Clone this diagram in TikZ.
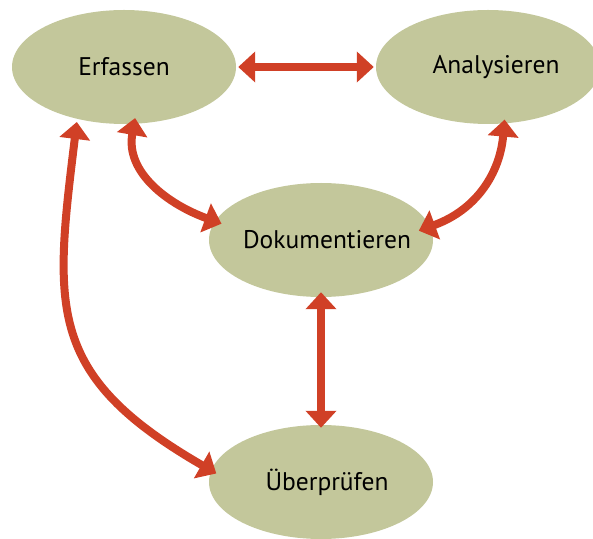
\documentclass[tikz,border=0pt]{standalone}
\usepackage{fontspec}
\setmainfont{PT Sans}
\usepackage{xcolor}
\usetikzlibrary{shapes.geometric,arrows.meta}

\definecolor{olive}{RGB}{195,199,155}
\definecolor{rot}{RGB}{208,64,38}

\newcommand{\phasename}[2][0pt]{\makebox[0pt]{\hspace{#1}#2}}

\tikzset{
	phase/.style={ellipse, fill=olive, inner sep=0pt, minimum width=224pt, minimum height=114pt, font=\fontsize{25.5}{28}\selectfont},
	pfeil/.style={draw=rot, line width=8pt, {Triangle[width=30pt,length=17pt]}-{Triangle[width=30pt,length=17pt]}}
}

\begin{document}
\begin{tikzpicture}[x=1pt,y=1pt]
			\useasboundingbox (0,0) rectangle (593,538);
			\clip (0,0) rectangle (593,538);

			\node[phase] (erfassen) at (124,471) {\phasename{Erfassen}};
			\node[phase] (analyse) at (488,471) {\phasename[16pt]{Analysieren}};
			\node[phase] (doku) at (321,298) {\phasename[12pt]{Dokumentieren}};
			\node[phase] (pruefen) at (321,56) {\phasename[12pt]{Überprüfen}};

			\draw[pfeil, shorten <=2pt, shorten >=2pt] (erfassen.east) -- (analyse.west);
			\draw[pfeil, shorten <=-5pt, shorten >=-3pt] (doku.south) -- (pruefen.north);

			\draw[pfeil, shorten <=-6pt, shorten >=-7pt] (erfassen.-80) to[out=-100, in=160] (doku.170);
			\draw[pfeil, shorten <=-4pt, shorten >=-12pt] (analyse.-74) to[out=-95, in=20] (doku.7);
			\draw[pfeil, shorten <=3pt, shorten >=-6pt] (erfassen.-132) to[out=-97, in=150, looseness=1.3] (pruefen.174);
		\end{tikzpicture}
\end{document}
